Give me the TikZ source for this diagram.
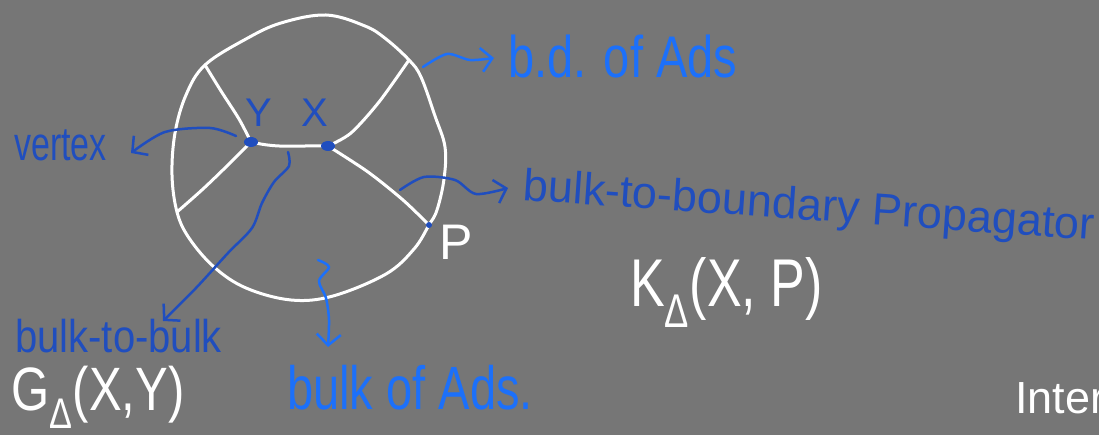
\documentclass[tikz,border=0pt]{standalone}
\usepackage{graphicx}
\usepackage{fontspec}
\setmainfont{Liberation Sans}
\usetikzlibrary{arrows.meta, shapes.geometric}

\definecolor{board}{RGB}{118,118,118}
\definecolor{ink}{RGB}{32,78,190}
\definecolor{lightink}{RGB}{28,112,250}

% handwriting is taller than the font
\newcommand{\tallhand}[2]{\scalebox{1}[#1]{#2}}

\begin{document}
\begin{tikzpicture}[x=1pt, y=-1pt,
        chalk/.style={draw=white, line width=3pt, line cap=round, line join=round},
        vtx/.style={ellipse, fill=ink, inner sep=0pt, minimum width=14pt, minimum height=10pt},
        bpt/.style={circle, fill=ink, inner sep=0pt, minimum size=6pt},
        hand/.style={font=\fontsize{#1}{#1}\selectfont, inner sep=0pt, anchor=base west},
        note/.style={-{Straight Barb[length=11pt, width=24pt]}, line width=2.5pt, line cap=round, line join=round}
    ]
        \fill[board] (0,0) rectangle (1099,435);
        \useasboundingbox (0,0) rectangle (1099,435);
        \clip (0,0) rectangle (1099,435);

        % boundary points and bulk vertices
        \coordinate (TL) at (205,65);
        \coordinate (TR) at (409,60);
        \coordinate (L) at (177,212);
        \coordinate (P) at (429,225);
        \coordinate (Y) at (251,142);
        \coordinate (X) at (328,146);

        \draw[chalk] plot[smooth cycle, tension=0.6] coordinates {(TL) (246,39) (281,23) (326,15) (365,26) (386,39) (TR) (421,77) (435,116) (445,147) (444,179) (437,210) (P) (414,249) (386,274) (333,296) (291,300) (246,288) (214,267) (189,238) (L) (172,175) (175,133) (186,95)};

        \draw[chalk] plot[smooth] coordinates {(TL) (221,91) (239,119) (Y)};
        \draw[chalk] plot[smooth] coordinates {(Y) (228,165) (203,189) (L)};
        \draw[chalk] (Y) .. controls (280,149) and (300,145) .. (X);
        \draw[chalk] plot[smooth] coordinates {(X) (351,133) (379,102) (TR)};
        \draw[chalk] plot[smooth] coordinates {(X) (368,172) (403,200) (P)};

        \node[vtx] (Ydot) at (Y) {};
        \node[vtx] (Xdot) at (X) {};
        \node[bpt] (Pdot) at (P) {};

        \node[hand=40, ink, anchor=center] (Ylbl) at (259,113) {Y};
        \node[hand=40, ink, anchor=center] (Xlbl) at (315,113) {X};
        \node[hand=50, white, anchor=center] (Plbl) at (456,242) {P};

        % labels
        \node[hand=34, ink] (vertex) at (14,161) {\tallhand{1.4}{vertex}};
        \node[hand=47, lightink] (bd) at (508,78) {\tallhand{1.25}{b.d. of Ads}};
        \node[hand=45, ink, rotate=-4] (btb) at (522,200) {bulk-to-boundary Propagator};
        \node[hand=40, ink] (b2b) at (15,352) {\tallhand{1.15}{bulk-to-bulk}};
        \node[hand=47, lightink] (bulk) at (287,409) {\tallhand{1.3}{bulk of Ads.}};
        \node[hand=52, white] (Kprop) at (630,306) {\tallhand{1.3}{K\textsubscript{Δ}(X, P)}};
        \node[hand=49, white] (Gprop) at (11,410) {\tallhand{1.25}{G\textsubscript{Δ}(X,Y)}};
        \node[hand=45, white] (inter) at (1015,413) {Inter};

        % pointers
        \coordinate (vtail) at (236,136);
        \coordinate (vhead) at (131,153);
        \draw[note, ink] plot[smooth] coordinates {(vtail) (210,128) (165,132) (vhead)};

        \coordinate (bdtail) at (423,67);
        \coordinate (bdhead) at (494,58);
        \draw[note, lightink] plot[smooth] coordinates {(bdtail) (447,54) (470,60) (bdhead)};

        \coordinate (btbtail) at (400,190);
        \coordinate (btbhead) at (508,188);
        \draw[note, ink] plot[smooth] coordinates {(btbtail) (424,177) (455,180) (476,194) (btbhead)};

        \coordinate (bbtail) at (288,152);
        \coordinate (bbhead) at (163,321);
        \draw[note, ink] plot[smooth] coordinates {(bbtail) (289,166) (274,182) (262,203) (252,228) (228,253) (196,288) (bbhead)};

        \coordinate (batail) at (318,260);
        \coordinate (bahead) at (328,347);
        \draw[note, lightink] plot[smooth] coordinates {(batail) (329,267) (319,281) (326,298) (329,320) (bahead)};
    \end{tikzpicture}
\end{document}
